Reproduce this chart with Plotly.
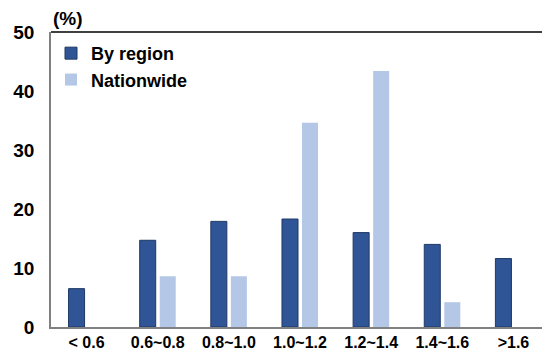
import plotly.graph_objects as go

categories = ["< 0.6", "0.6~0.8", "0.8~1.0", "1.0~1.2", "1.2~1.4", "1.4~1.6", ">1.6"]
by_region = [6.5, 14.7, 17.9, 18.3, 16.0, 14.0, 11.6]
nationwide = [0, 8.6, 8.6, 34.6, 43.4, 4.2, 0]
y_ticks = [0, 10, 20, 30, 40, 50]

FONT = "Liberation Sans"

fig = go.Figure()
fig.add_trace(go.Bar(x=categories, y=by_region, name="<b>By region</b>",
                     marker=dict(color="#2F5597", line=dict(color="#1F3864", width=1))))
fig.add_trace(go.Bar(x=categories, y=nationwide, name="<b>Nationwide</b>",
                     marker=dict(color="#B4C7E7", line=dict(width=0))))

# page body has an 8px margin, so the figure is shifted by 8px; compensate
fig.update_layout(
    width=542, height=344,
    margin=dict(l=43, r=1, t=24, b=20),
    paper_bgcolor="white", plot_bgcolor="white",
    barmode="group", bargap=0.437, bargroupgap=0.2,
    font=dict(family=FONT, color="#000000"),
    legend=dict(x=0.0, y=0.99, xanchor="left", yanchor="top",
                font=dict(family=FONT, size=18, color="#000"),
                bgcolor="rgba(0,0,0,0)", tracegroupgap=0, itemwidth=30),
    showlegend=True,
)
fig.update_xaxes(showline=True, linecolor="#808080", linewidth=1.5,
                 ticks="", tickfont=dict(family=FONT, size=16, color="#000"),
                 showgrid=False, tickvals=categories,
                 ticktext=[f"<b>{c}</b>" for c in categories])
fig.update_yaxes(range=[0, 50], tickvals=y_ticks, ticktext=[f"<b>{v}</b>" for v in y_ticks],
                 showline=True, linecolor="#808080",
                 linewidth=1.5, showgrid=False, zeroline=False, ticks="",
                 tickfont=dict(family=FONT, size=19, color="#000"), ticklabelstandoff=11)

# plot-area frame: dark top, gray right
fig.add_shape(type="line", xref="paper", yref="paper", x0=0, x1=1, y0=1, y1=1,
              line=dict(color="#000000", width=1.5))
fig.add_shape(type="line", xref="paper", yref="paper", x0=1, x1=1, y0=0, y1=1,
              line=dict(color="#A0A0A0", width=1))

fig.add_annotation(text="<b>(%)</b>", xref="paper", yref="paper", x=0.0, y=1.0,
                   xanchor="left", yanchor="bottom", showarrow=False, yshift=1,
                   font=dict(family=FONT, size=19, color="#000"))

fig.write_html("out.html")
